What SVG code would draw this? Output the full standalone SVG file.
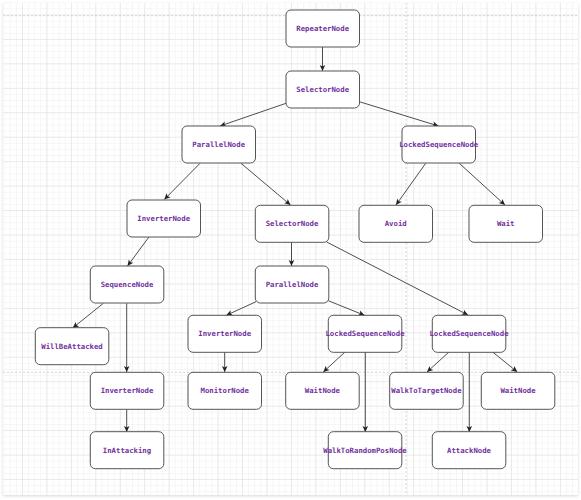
<svg xmlns="http://www.w3.org/2000/svg" width="581" height="500" viewBox="0 0 581 500">
<defs>
<pattern id="minor" patternUnits="userSpaceOnUse" x="22" y="14.5" width="6.1125" height="6.1125">
<path d="M0 0V6.1125M0 0H6.1125" fill="none" stroke="#eeeeee" stroke-width="1"/>
</pattern>
<pattern id="major" patternUnits="userSpaceOnUse" x="22" y="14.5" width="24.45" height="24.45">
<path d="M0 0V24.45M0 0H24.45" fill="none" stroke="#dedede" stroke-width="1"/>
</pattern>
<filter id="sh" x="-5%" y="-5%" width="110%" height="110%">
<feGaussianBlur stdDeviation="1.5"/>
</filter>
<marker id="arr" markerWidth="8" markerHeight="8" refX="7" refY="4" orient="auto" markerUnits="userSpaceOnUse">
<path d="M1 1.2L7 4L1 6.8L2.4 4Z" fill="#222"/>
</marker>
</defs>
<style>
.node rect{fill:#fff;stroke:#555;stroke-width:1}
.node text{font-family:"DejaVu Sans Mono","Liberation Mono",monospace;font-weight:bold;font-size:7.3px;fill:#7030a0;text-anchor:middle;dominant-baseline:central}
#connectors path{fill:none;stroke:#222;stroke-width:0.8;marker-end:url(#arr)}
</style>
<rect width="581" height="500" fill="#fff"/>
<rect x="3" y="4" width="575" height="492" fill="#d8d8d8" filter="url(#sh)"/>
<rect x="3" y="3" width="575" height="492" fill="#fff"/>
<rect x="3" y="3" width="575" height="492" fill="url(#minor)"/>
<rect x="3" y="3" width="575" height="492" fill="url(#major)"/>
<path d="M3 15.7H578M3 372.3H578M406 3V495" stroke="#cccccc" stroke-width="0.8" stroke-dasharray="2 2" fill="none"/>

<g id="connectors">
<path d="M322.5 47V71"/>
<path d="M286 103.3L220 126"/>
<path d="M359.3 101.7L438.5 126"/>
<path d="M200 163.3L164.3 199.5"/>
<path d="M241 163.3L290.5 205"/>
<path d="M425.7 163.3L396 205"/>
<path d="M459.3 163.3L505 205"/>
<path d="M149.3 236.5L127.5 266"/>
<path d="M291.5 242V266"/>
<path d="M326.7 242L468 315"/>
<path d="M103.3 303.3L72.7 328"/>
<path d="M126.7 303.3V372"/>
<path d="M126.7 409.3V432"/>
<path d="M256 301.7L226.3 315.3"/>
<path d="M328.3 300.7L364.5 315.3"/>
<path d="M224.7 352V372"/>
<path d="M345 352L323.3 372"/>
<path d="M365.3 352V432"/>
<path d="M449 352L427 372"/>
<path d="M469.3 352V432"/>
<path d="M492.7 352L517.3 372"/>
</g>

<g id="n-repeater" class="node"><rect x="286" y="10" width="73.5" height="37" rx="5"/><text x="322.7" y="28.5">RepeaterNode</text></g>
<g id="n-selector1" class="node"><rect x="286" y="71" width="73.5" height="37" rx="5"/><text x="322.7" y="89.5">SelectorNode</text></g>
<g id="n-parallel1" class="node"><rect x="182" y="126" width="73.5" height="37" rx="5"/><text x="218.7" y="144.5">ParallelNode</text></g>
<g id="n-locked1" class="node"><rect x="402" y="126" width="73.5" height="37" rx="5"/><text x="438.7" y="144.5">LockedSequenceNode</text></g>
<g id="n-inverter1" class="node"><rect x="127" y="200" width="73.5" height="37" rx="5"/><text x="163.7" y="218.5">InverterNode</text></g>
<g id="n-selector2" class="node"><rect x="255.3" y="205.3" width="73.5" height="37" rx="5"/><text x="292" y="223.8">SelectorNode</text></g>
<g id="n-avoid" class="node"><rect x="359" y="205.3" width="73.5" height="37" rx="5"/><text x="395.7" y="223.8">Avoid</text></g>
<g id="n-wait" class="node"><rect x="469" y="205.3" width="73.5" height="37" rx="5"/><text x="505.7" y="223.8">Wait</text></g>
<g id="n-sequence" class="node"><rect x="90.3" y="266" width="73.5" height="37" rx="5"/><text x="127" y="284.5">SequenceNode</text></g>
<g id="n-parallel2" class="node"><rect x="255.3" y="266" width="73.5" height="37" rx="5"/><text x="292" y="284.5">ParallelNode</text></g>
<g id="n-willbeattacked" class="node"><rect x="35.3" y="327.7" width="73.5" height="37" rx="5"/><text x="72" y="346.2">WillBeAttacked</text></g>
<g id="n-inverter2" class="node"><rect x="188" y="315.3" width="73.5" height="37" rx="5"/><text x="224.7" y="333.8">InverterNode</text></g>
<g id="n-locked2" class="node"><rect x="328.3" y="315.3" width="73.5" height="37" rx="5"/><text x="365" y="333.8">LockedSequenceNode</text></g>
<g id="n-locked3" class="node"><rect x="432.3" y="315.3" width="73.5" height="37" rx="5"/><text x="469" y="333.8">LockedSequenceNode</text></g>
<g id="n-inverter3" class="node"><rect x="90.3" y="372.3" width="73.5" height="37" rx="5"/><text x="127" y="390.8">InverterNode</text></g>
<g id="n-monitor" class="node"><rect x="188" y="372.3" width="73.5" height="37" rx="5"/><text x="224.7" y="390.8">MonitorNode</text></g>
<g id="n-waitnode1" class="node"><rect x="285.7" y="372.3" width="73.5" height="37" rx="5"/><text x="322.4" y="390.8">WaitNode</text></g>
<g id="n-walktotarget" class="node"><rect x="389.7" y="372.3" width="73.5" height="37" rx="5"/><text x="426.4" y="390.8">WalkToTargetNode</text></g>
<g id="n-waitnode2" class="node"><rect x="481.3" y="372.3" width="73.5" height="37" rx="5"/><text x="518" y="390.8">WaitNode</text></g>
<g id="n-inattacking" class="node"><rect x="90.3" y="431.7" width="73.5" height="37" rx="5"/><text x="127" y="450.2">InAttacking</text></g>
<g id="n-walkrandom" class="node"><rect x="328.3" y="431.7" width="73.5" height="37" rx="5"/><text x="365" y="450.2">WalkToRandomPosNode</text></g>
<g id="n-attack" class="node"><rect x="432.3" y="431.7" width="73.5" height="37" rx="5"/><text x="469" y="450.2">AttackNode</text></g>
</svg>
